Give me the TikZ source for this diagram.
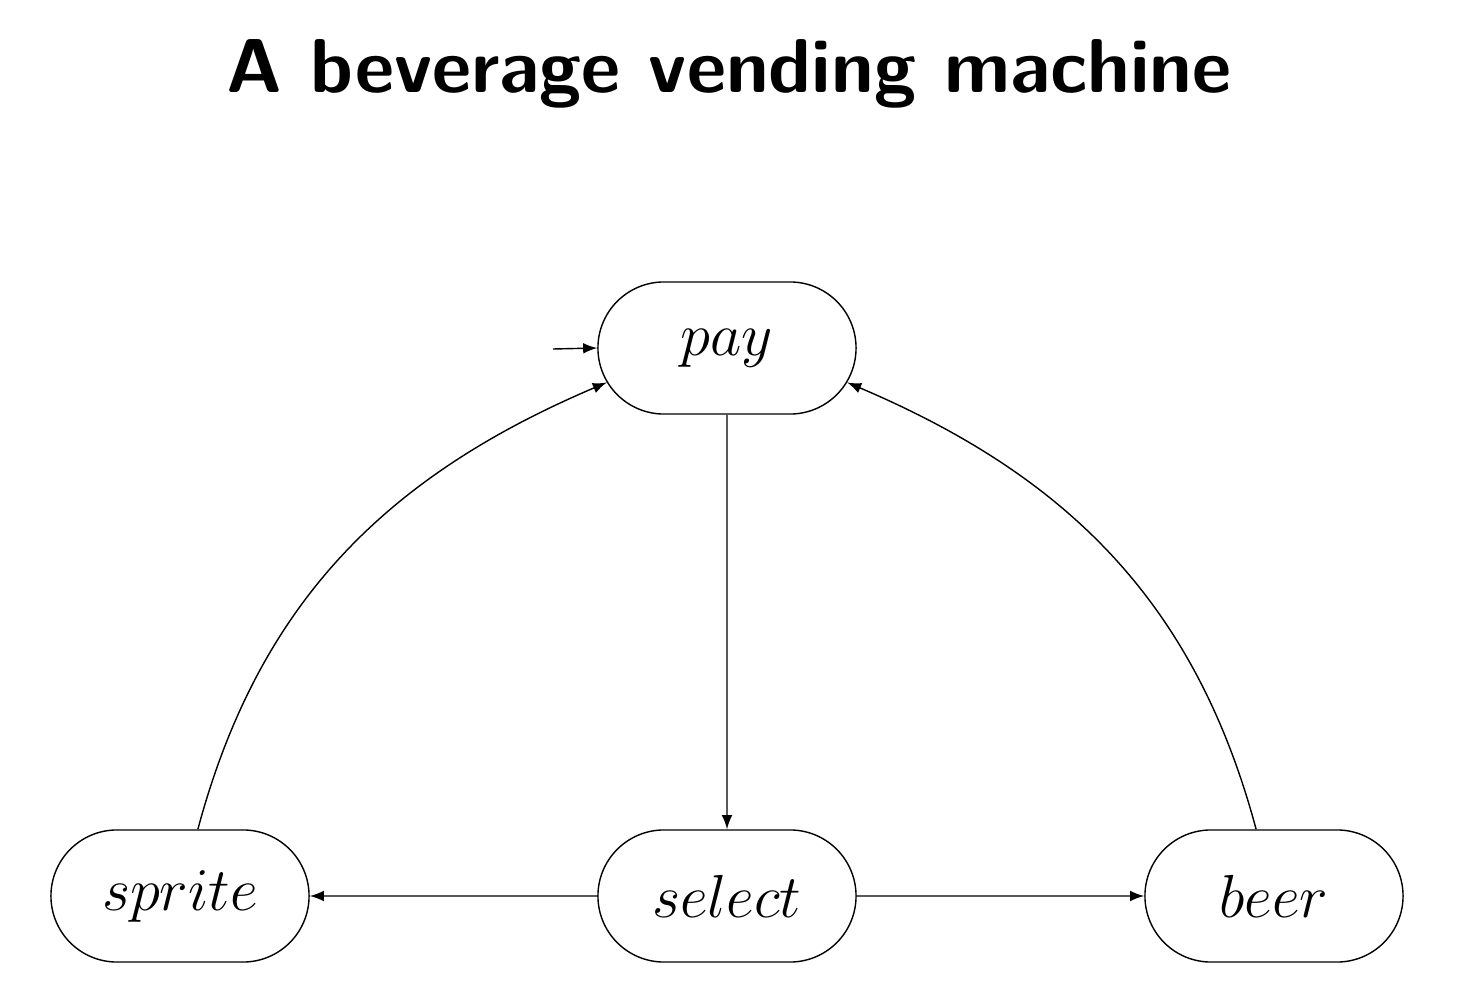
\documentclass[tikz,border=0pt]{standalone}
\usetikzlibrary{shapes.misc}
\begin{document}
\begin{tikzpicture}[>=latex, x=0.01cm, y=-0.01cm,
    state/.style={draw, rounded rectangle, minimum width=2.65cm, minimum height=1.32cm,
                  inner sep=1pt, font=\fontsize{17.5}{20}\selectfont}]
\useasboundingbox (0,0) rectangle (1468,1006);

% Baslik
\node[anchor=base, font=\fontsize{21.7}{26}\selectfont\sffamily\bfseries] (title) at (729,93)
  {A beverage vending machine};

% Durumlar
\node[state] (pay)    at ( 727, 348) {$pay$};
\node[state] (select) at ( 727, 896) {$select$};
\node[state] (sprite) at ( 180, 896) {$sprite$};
\node[state] (beer)   at (1274, 896) {$beer$};

% Baslangic oku
\coordinate (start) at (553,349);
\draw[->] (start) -- (pay.west);

% Gecisler
\draw[->] (pay) -- (select);
\draw[->] (select) -- (sprite);
\draw[->] (select) -- (beer);
\draw[->] (sprite.75) to[out=75, in=203] (pay.196);
\draw[->] (beer.105)  to[out=105, in=-23] (pay.-16);

\end{tikzpicture}
\end{document}
